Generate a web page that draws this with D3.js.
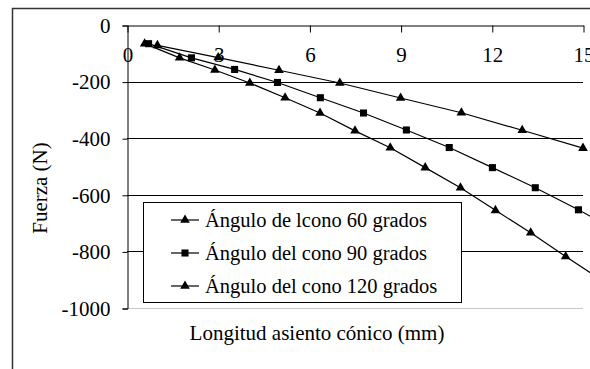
<!DOCTYPE html>
<html><head><meta charset="utf-8">
<script src="https://cdn.jsdelivr.net/npm/d3@7"></script>
</head><body style="margin:0"><svg id="c" width="590" height="369"></svg>
<script>
const xTicks = [0, 3, 6, 9, 12, 15];
const yTicks = [0, -200, -400, -600, -800, -1000];
const seriesNames = ["Ángulo de lcono 60 grados", "Ángulo del cono 90 grados", "Ángulo del cono 120 grados"];
const seriesMarkers = ["triangle", "square", "triangle"];
const x60 = [1, 3, 5, 7, 9, 11, 13, 15];
const y60 = [-72, -115, -160, -205, -258, -310, -372, -435];
const x90 = [0.71, 2.12, 3.54, 4.95, 6.36, 7.78, 9.19, 10.6, 12.02, 13.43, 14.85, 16.26];
const y90 = [-66, -116, -157, -203, -257, -311, -371, -433, -504, -575, -653, -735];
const x120 = [0.58, 1.73, 2.89, 4.04, 5.2, 6.35, 7.5, 8.66, 9.81, 10.97, 12.12, 13.28, 14.43, 15.59];
const y120 = [-66, -116, -159, -205, -257, -311, -374, -434, -504, -575, -655, -734, -818, -900];

const FONT = "'Liberation Serif'";
const svg = d3.select("#c");
const W = 590, H = 369;
const x = d3.scaleLinear().domain([0, 15]).range([127, 583]);
const y = d3.scaleLinear().domain([-1000, 0]).range([308, 25]);
const FS = 21;
function txt(sel, fs) { return sel.style("font-family", FONT).style("font-size", (fs || FS) + "px").attr("fill", "#000"); }

svg.append("path").attr("d", `M12.5,${H} V8.5 H${W}`).attr("fill", "none").attr("stroke", "#333").attr("stroke-width", 1.5);

svg.append("g").selectAll("line").data(yTicks.filter(v => v < 0)).join("line")
  .attr("x1", x(0)).attr("x2", x(15))
  .attr("y1", d => Math.round(y(d)) + 0.5).attr("y2", d => Math.round(y(d)) + 0.5)
  .attr("stroke", d => d === -1000 ? "#c8c8c8" : "#000").attr("stroke-width", 1);

const yAxis = d3.axisLeft(y).tickValues(yTicks).tickSize(5).tickPadding(12).tickFormat(d => d === 0 ? "0" : "-" + Math.abs(d));
const gY = svg.append("g").attr("transform", `translate(${x(0)+0.5},0.5)`).call(yAxis);
gY.attr("font-family", null).attr("font-size", null);
gY.select(".domain").attr("stroke", "#000");
gY.selectAll(".tick line").attr("stroke", "#000");
txt(gY.selectAll("text"));

const xAxis = d3.axisBottom(x).tickValues(xTicks).tickSizeInner(7).tickSizeOuter(0).tickPadding(15);
const gX = svg.append("g").attr("transform", `translate(0.5,${y(0)+0.5})`).call(xAxis);
gX.attr("font-family", null).attr("font-size", null);
gX.select(".domain").attr("stroke", "#000");
gX.selectAll(".tick line").attr("stroke", "#000");
txt(gX.selectAll("text"));

const series = [
  {xs: x60, ys: y60, m: seriesMarkers[0]},
  {xs: x90, ys: y90, m: seriesMarkers[1]},
  {xs: x120, ys: y120, m: seriesMarkers[2]}
];
const line = d3.line().x(d => x(d[0])).y(d => y(d[1]));
const tri = d3.symbol().type(d3.symbolTriangle).size(40);
const sq = d3.symbol().type(d3.symbolSquare).size(50);
series.forEach(s => {
  const pts = s.xs.map((v, i) => [v, s.ys[i]]);
  svg.append("path").datum(pts).attr("d", line).attr("fill", "none").attr("stroke", "#000").attr("stroke-width", 1.2);
  svg.append("g").selectAll("path").data(pts).join("path")
    .attr("d", s.m === "square" ? sq : tri)
    .attr("transform", d => `translate(${x(d[0])},${y(d[1])})`)
    .attr("fill", "#000");
});

const lg = svg.append("g");
lg.append("rect").attr("x", 143.5).attr("y", 202.5).attr("width", 318).attr("height", 100)
  .attr("fill", "#fff").attr("stroke", "#000").attr("stroke-width", 1);
const ly = [220, 253, 286];
seriesNames.forEach((n, i) => {
  lg.append("line").attr("x1", 171).attr("x2", 199).attr("y1", ly[i]).attr("y2", ly[i]).attr("stroke", "#000").attr("stroke-width", 1.2);
  lg.append("path").attr("d", seriesMarkers[i] === "square" ? sq : tri).attr("transform", `translate(185,${ly[i]})`).attr("fill", "#000");
  txt(lg.append("text").attr("x", 205).attr("y", ly[i]).attr("dy", "0.35em"), 20.5).text(n);
});

txt(svg.append("text").attr("transform", "translate(47,188) rotate(-90)").attr("text-anchor", "middle")).text("Fuerza (N)");
txt(svg.append("text").attr("x", 317).attr("y", 340).attr("text-anchor", "middle")).text("Longitud asiento cónico (mm)");
</script></body></html>
